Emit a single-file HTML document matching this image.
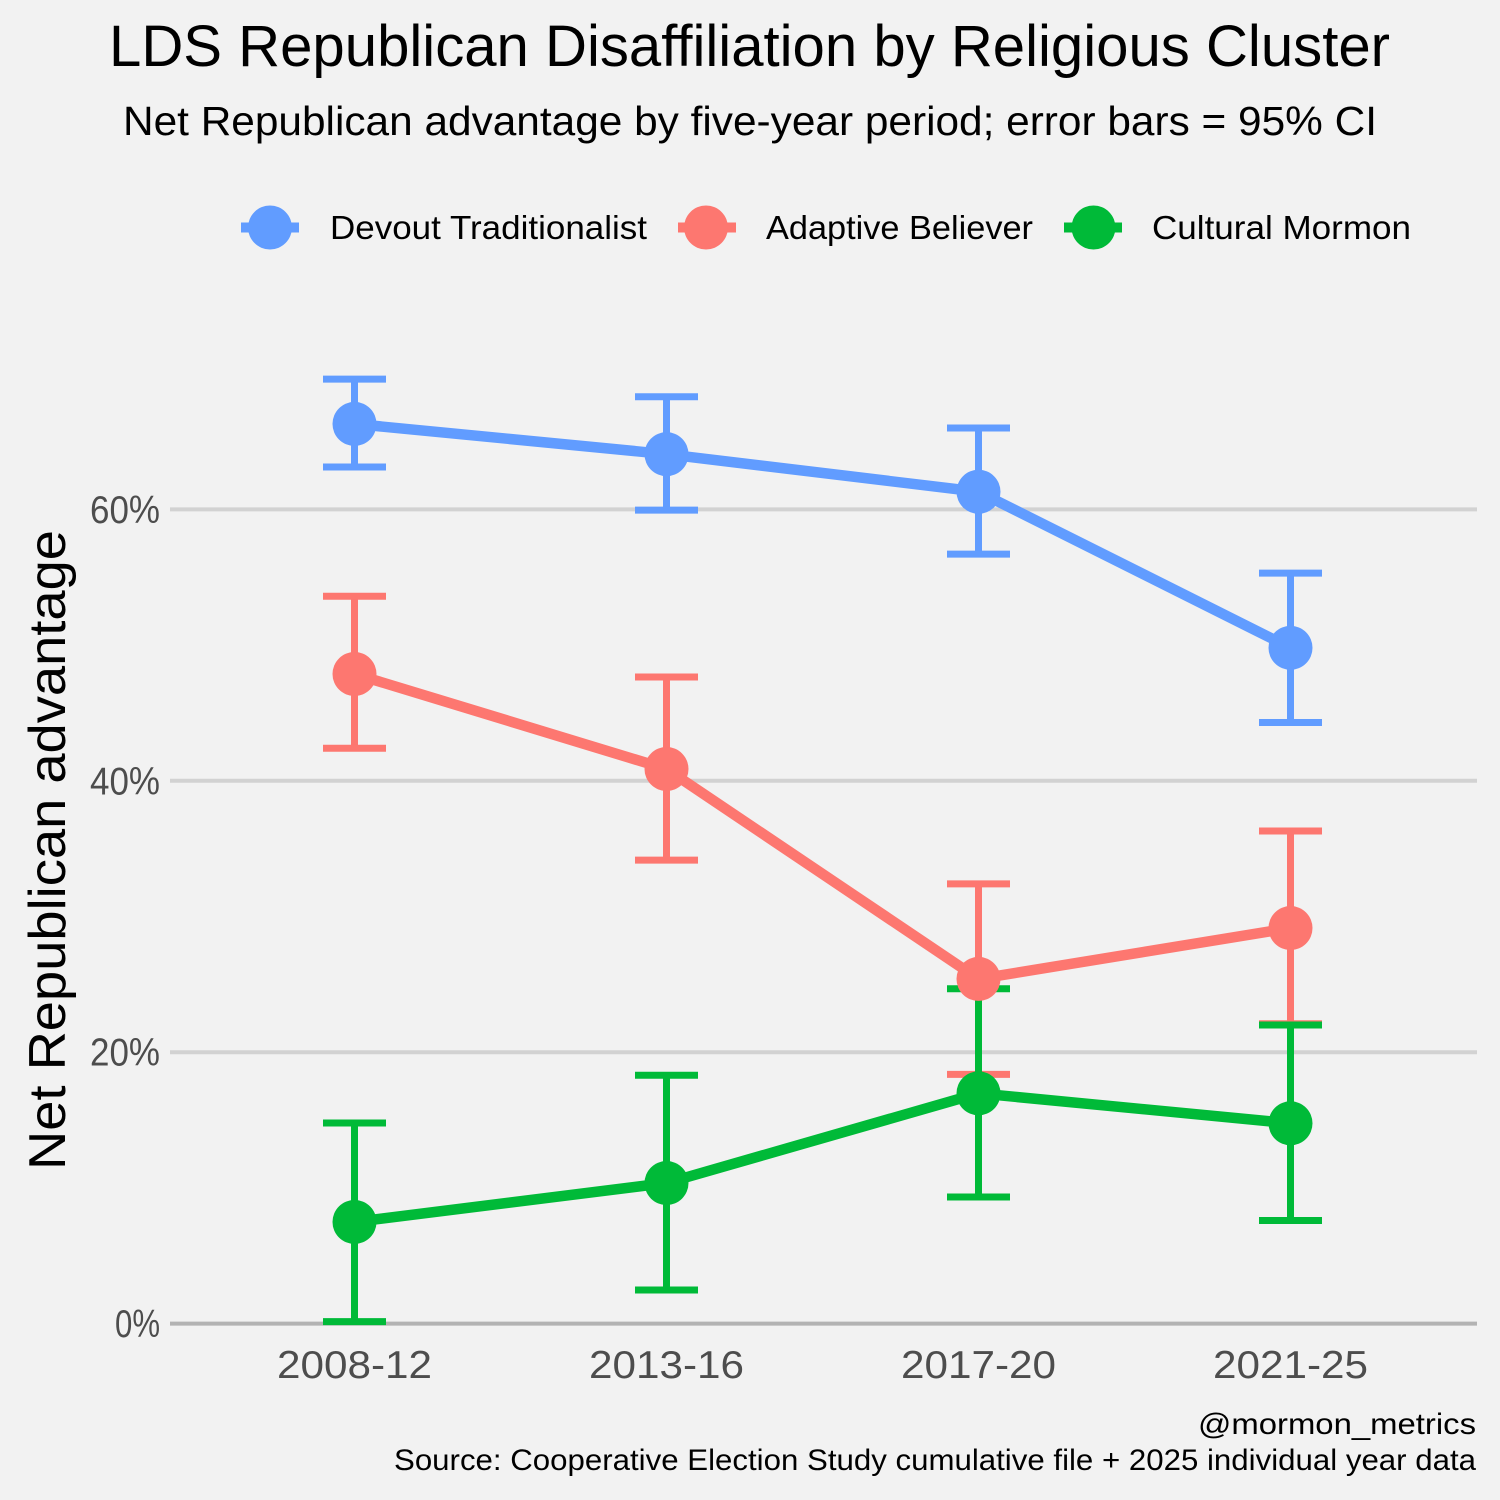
<!DOCTYPE html>
<html lang="en">
<head>
<meta charset="utf-8">
<title>LDS Republican Disaffiliation by Religious Cluster</title>
<style>
html,body{margin:0;padding:0;background:#f2f2f2;width:1500px;height:1500px;overflow:hidden}
svg{display:block}
text{font-family:"Liberation Sans","DejaVu Sans",sans-serif}
</style>
</head>
<body>
<svg id="chart" xmlns="http://www.w3.org/2000/svg" width="1500" height="1500" viewBox="0 0 1500 1500">
  <rect x="0" y="0" width="1500" height="1500" fill="#f2f2f2"/>
  <text x="109" y="66" font-size="58" fill="#000" textLength="1281" lengthAdjust="spacingAndGlyphs">LDS Republican Disaffiliation by Religious Cluster</text>
  <text x="123" y="135" font-size="41" fill="#000" textLength="1254" lengthAdjust="spacingAndGlyphs">Net Republican advantage by five-year period; error bars = 95% CI</text>
  <g id="grid"></g>
  <g id="yticks"></g>
  <g id="xticks"></g>
  <g id="errorbars"></g>
  <g id="lines"></g>
  <g id="points"></g>
  <text transform="translate(65,1170) rotate(-90)" font-size="52" fill="#000" textLength="640" lengthAdjust="spacingAndGlyphs">Net Republican advantage</text>

  <g>
    <g>
      <line x1="241" x2="299" y1="227.5" y2="227.5" stroke="#619cff" stroke-width="10"/>
      <circle cx="270" cy="227.5" r="22" fill="#619cff"/>
      <text x="330" y="239" font-size="33" fill="#000" textLength="317" lengthAdjust="spacingAndGlyphs">Devout Traditionalist</text>
    </g>
    <g>
      <line x1="678" x2="736" y1="227.5" y2="227.5" stroke="#fd7770" stroke-width="10"/>
      <circle cx="706" cy="227.5" r="22" fill="#fd7770"/>
      <text x="766" y="239" font-size="33" fill="#000" textLength="267" lengthAdjust="spacingAndGlyphs">Adaptive Believer</text>
    </g>
    <g>
      <line x1="1064" x2="1122" y1="227.5" y2="227.5" stroke="#00ba38" stroke-width="10"/>
      <circle cx="1093.5" cy="227.5" r="22" fill="#00ba38"/>
      <text x="1152" y="239" font-size="33" fill="#000" textLength="259" lengthAdjust="spacingAndGlyphs">Cultural Mormon</text>
    </g>
  </g>

  <text x="1198" y="1434" font-size="30" fill="#000" textLength="278" lengthAdjust="spacingAndGlyphs">@mormon_metrics</text>
  <text x="394" y="1470" font-size="30" fill="#000" textLength="1082" lengthAdjust="spacingAndGlyphs">Source: Cooperative Election Study cumulative file + 2025 individual year data</text>
</svg>
<script>
const periods = ["2008-12", "2013-16", "2017-20", "2021-25"];
const yTickValues = [0, 20, 40, 60];
const devoutMean = [66.3, 64.07, 61.3, 49.8];
const devoutLow = [63.12, 59.95, 56.7, 44.3];
const devoutHigh = [69.6, 68.3, 66.0, 55.3];
const adaptiveMean = [47.87, 40.87, 25.4, 29.15];
const adaptiveLow = [42.4, 34.15, 18.37, 22.1];
const adaptiveHigh = [53.6, 47.65, 32.4, 36.3];
const culturalMean = [7.49, 10.36, 16.97, 14.76];
const culturalLow = [0.15, 2.48, 9.33, 7.6];
const culturalHigh = [14.78, 18.3, 24.68, 22.0];

const NS = 'http://www.w3.org/2000/svg';
function xScale(i) { return 354.5 + i * 312; }
function yScale(v) { return 1323.6 - v * 13.57; }
function make(tag, attrs, parent) {
  const el = document.createElementNS(NS, tag);
  for (const k in attrs) el.setAttribute(k, attrs[k]);
  parent.appendChild(el);
  return el;
}

const seriesList = [
  { key: 'devout', color: '#619cff', mean: devoutMean, low: devoutLow, high: devoutHigh },
  { key: 'adaptive', color: '#fd7770', mean: adaptiveMean, low: adaptiveLow, high: adaptiveHigh },
  { key: 'cultural', color: '#00ba38', mean: culturalMean, low: culturalLow, high: culturalHigh }
];

const gridG = document.getElementById('grid');
const yTickG = document.getElementById('yticks');
const xTickG = document.getElementById('xticks');
const errG = document.getElementById('errorbars');
const lineG = document.getElementById('lines');
const pointG = document.getElementById('points');

yTickValues.forEach(function (v) {
  const gl = make('line', { x1: 170, x2: 1477, y1: yScale(v), y2: yScale(v), stroke: v === 0 ? '#b3b3b3' : '#d2d2d2', 'stroke-width': 4 }, gridG);
  
  
  const label = v + '%';
  const w = 25 * label.length - 5;
  const t = make('text', { x: 160 - w, y: yScale(v) + 13.5, 'font-size': 39, fill: '#4d4d4d', textLength: w, lengthAdjust: 'spacingAndGlyphs' }, yTickG);
  t.textContent = label;
  
  
});

periods.forEach(function (p, i) {
  const t = make('text', { x: xScale(i) - 77.5, y: 1378, 'font-size': 39, fill: '#4d4d4d', textLength: 155, lengthAdjust: 'spacingAndGlyphs' }, xTickG);
  t.textContent = p;
  
  
});

seriesList.forEach(function (s) {
  periods.forEach(function (p, i) {
    const x = xScale(i);
    const g = make('g', { stroke: s.color, 'stroke-width': 7, fill: 'none' }, errG);
    
    
    make('line', { x1: x, x2: x, y1: yScale(s.low[i]), y2: yScale(s.high[i]) }, g);
    make('line', { x1: x - 31.5, x2: x + 31.5, y1: yScale(s.low[i]), y2: yScale(s.low[i]) }, g);
    make('line', { x1: x - 31.5, x2: x + 31.5, y1: yScale(s.high[i]), y2: yScale(s.high[i]) }, g);
  });
});

seriesList.forEach(function (s) {
  const pts = s.mean.map(function (v, i) { return xScale(i) + ',' + yScale(v); }).join(' ');
  const l = make('polyline', { points: pts, fill: 'none', stroke: s.color, 'stroke-width': 10.5, 'stroke-linejoin': 'round' }, lineG);
  
  
});

seriesList.forEach(function (s) {
  s.mean.forEach(function (v, i) {
    const c = make('circle', { cx: xScale(i), cy: yScale(v), r: 22, fill: s.color }, pointG);
    
    
  });
});
</script>
</body>
</html>
